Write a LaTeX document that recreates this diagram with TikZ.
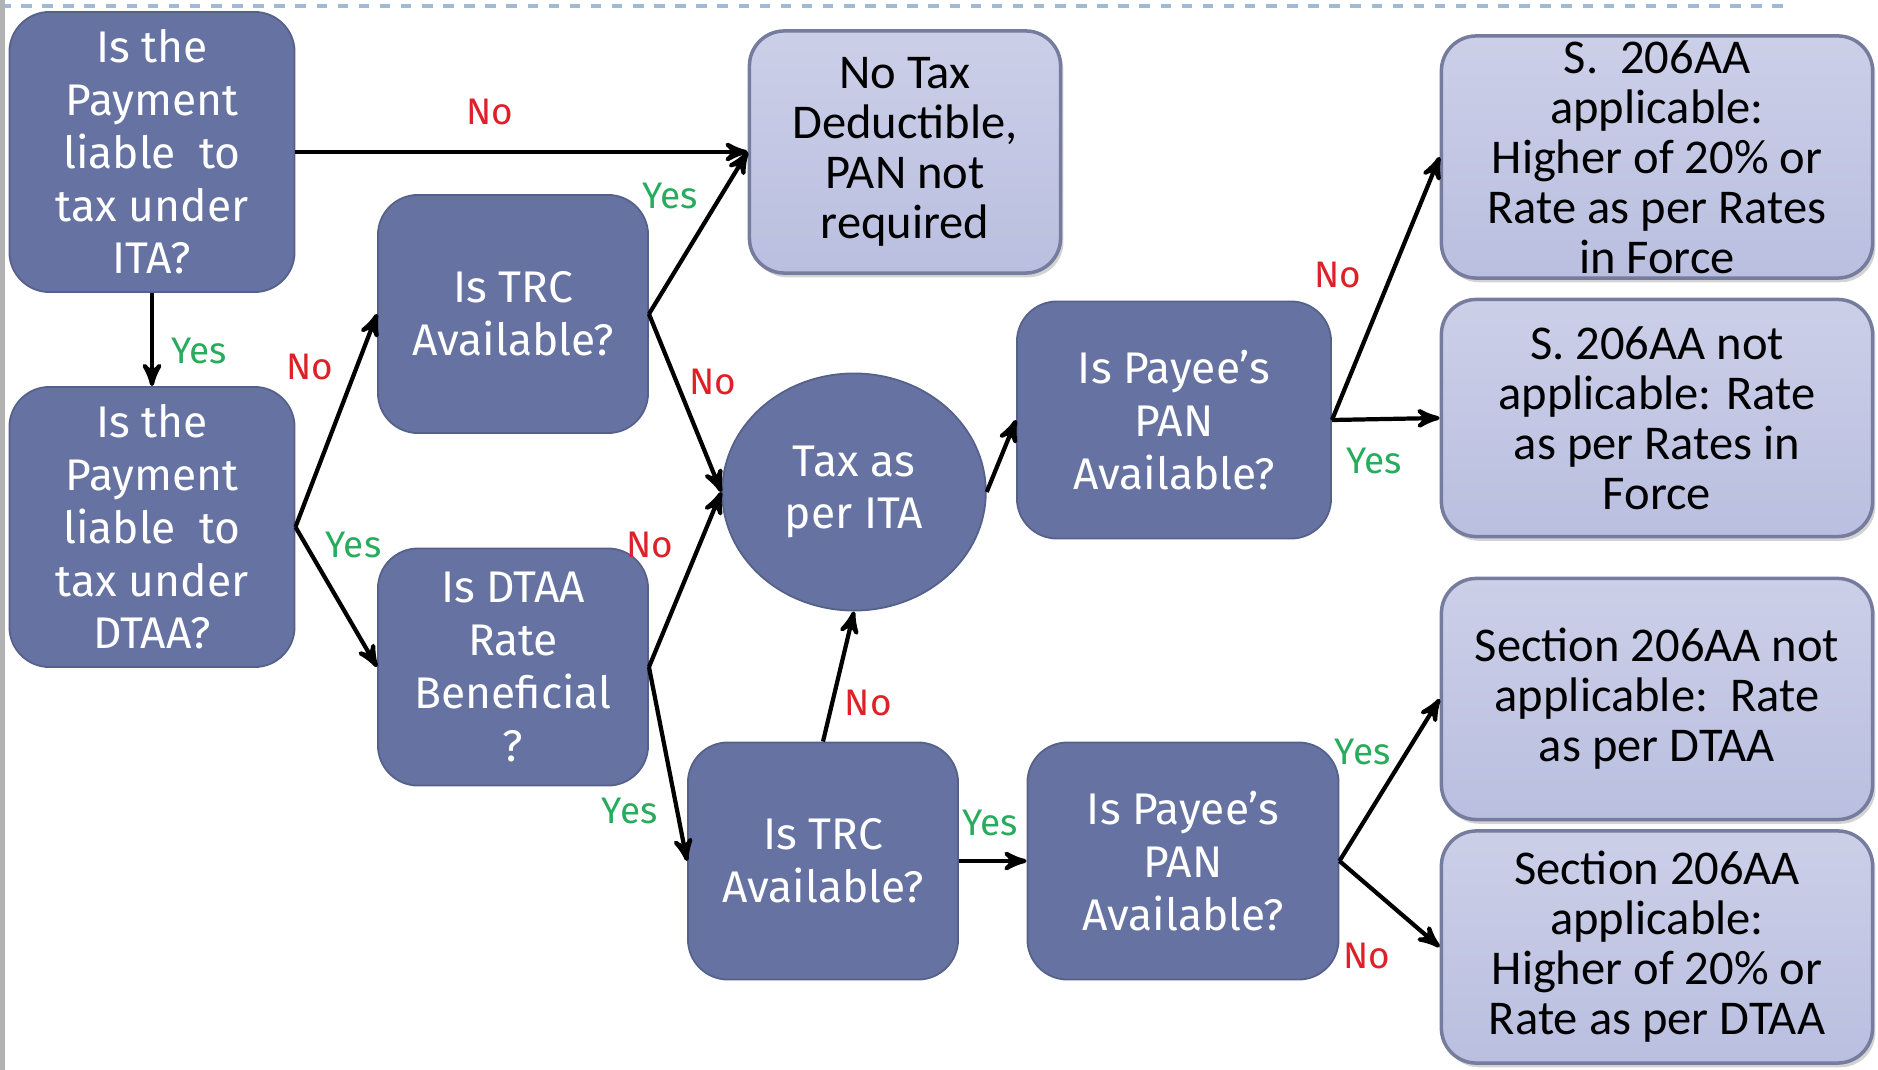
\documentclass[tikz,border=0pt]{standalone}
\usepackage{fontspec}
\setmainfont{Carlito}
\newfontfamily\firafont{Fira Sans}
\usetikzlibrary{shapes, shapes.geometric, arrows, shadows}
\definecolor{slateblue}{RGB}{101,114,162}
\definecolor{paleblue}{RGB}{186,191,224}
\definecolor{paleedge}{RGB}{118,124,158}
\definecolor{nored}{RGB}{222,32,40}
\definecolor{yesgreen}{RGB}{38,172,92}
\definecolor{dashblue}{RGB}{160,186,212}

\tikzset{
    question/.style = {rectangle, rounded corners = 0.4cm, fill = slateblue, draw = slateblue!85!black, line width = 0.5pt, text = white, align = center, inner sep = 0pt, font = \firafont\fontsize{12.6}{15}\selectfont},
    result/.style = {rectangle, rounded corners = 0.35cm, top color = paleblue!75!white, bottom color = paleblue, draw = paleedge, line width = 1pt, text = black, align = center, inner sep = 0pt, font = \fontsize{13.8}{14.2}\selectfont, drop shadow = {opacity = 0.35, shadow xshift = 0.8pt, shadow yshift = -1.2pt}},
    flow/.style = {->, >=stealth', line width = 1.2pt, black},
    yeslabel/.style = {text = yesgreen, inner sep = 1pt, font = \firafont\fontsize{10.5}{12}\selectfont},
    nolabel/.style = {text = nored, inner sep = 1pt, font = \firafont\fontsize{10.5}{12}\selectfont}
}

\begin{document}
\begin{tikzpicture}[x = 0.01cm, y = -0.01cm]
    \useasboundingbox (0,0) rectangle (1878,1070);
    \draw [dashblue, dashed, line width = 1pt] (0,6) -- (1790,6);
    \draw [gray!60, line width = 1.5pt] (2,0) -- (2,1070);

    \node (ita) [question, minimum width = 2.85cm, minimum height = 2.8cm] at (152,152) {Is the\\Payment\\liable\ \ to\\tax under\\ITA?};
    \node (dtaa) [question, minimum width = 2.85cm, minimum height = 2.8cm] at (152,527) {Is the\\Payment\\liable\ \ to\\tax under\\DTAA?};
    \node (trctop) [question, minimum width = 2.7cm, minimum height = 2.38cm] at (513,314) {Is TRC\\Available?};
    \node (rate) [question, minimum width = 2.7cm, minimum height = 2.37cm] at (513,667) {Is DTAA\\Rate\\Beneficial\\?};
    \node (taxita) [question, ellipse, minimum width = 2.635cm, minimum height = 2.37cm] at (854,492) {Tax as\\per ITA};
    \node (trcbot) [question, minimum width = 2.7cm, minimum height = 2.37cm] at (823,861) {Is TRC\\Available?};
    \node (pantop) [question, minimum width = 3.14cm, minimum height = 2.37cm] at (1174,420) {Is Payee’s\\PAN\\Available?};
    \node (panbot) [question, minimum width = 3.11cm, minimum height = 2.37cm] at (1183,861) {Is Payee’s\\PAN\\Available?};

    \node (notax) [result, minimum width = 3.11cm, minimum height = 2.42cm] at (905,152) {No Tax\\Deductible,\\PAN not\\required};
    \node (shigher) [result, minimum width = 4.31cm, minimum height = 2.42cm] at (1657,157) {S.\ \ 206AA\\applicable:\\Higher of 20\% or\\Rate as per Rates\\in Force};
    \node (sforce) [result, minimum width = 4.31cm, minimum height = 2.37cm] at (1657,418) {S. 206AA not\\applicable: Rate\\as per Rates in\\Force};
    \node (secrate) [result, minimum width = 4.31cm, minimum height = 2.41cm] at (1657,699) {Section 206AA not\\applicable:\ \ Rate\\as per DTAA};
    \node (sechigher) [result, minimum width = 4.31cm, minimum height = 2.32cm] at (1657,947) {Section 206AA\\applicable:\\Higher of 20\% or\\Rate as per DTAA};

    \draw [flow] (ita.east) -- node [nolabel, pos = 0.43, above = 6pt] {No} (notax.west);
    \draw [flow] (ita.south) -- node [yeslabel, pos = 0.62, right = 4pt] {Yes} (dtaa.north);
    \draw [flow] (dtaa.east) -- node [nolabel, pos = 0.75, left = 5pt] {No} (trctop.west);
    \draw [flow] (dtaa.east) -- node [yeslabel, pos = 0.13, right = 4pt] {Yes} (rate.west);
    \draw [flow] (trctop.east) -- node [yeslabel, pos = 0.73, left = 5pt] {Yes} (notax.west);
    \draw [flow] (trctop.east) -- node [nolabel, pos = 0.38, right = 2pt] {No} (taxita.west);
    \draw [flow] (rate.east) -- node [nolabel, pos = 0.7, left = 6pt] {No} (taxita.west);
    \draw [flow] (rate.east) -- node [yeslabel, pos = 0.74, left = 4pt] {Yes} (trcbot.west);
    \draw [flow] (trcbot.north) -- node [nolabel, pos = 0.3, right = 2pt] {No} (taxita.south);
    \draw [flow] (trcbot.east) -- node [yeslabel, pos = 0.46, above = 5.5pt] {Yes} (panbot.west);
    \draw [flow] (taxita.east) -- (pantop.west);
    \draw [flow] (pantop.east) -- node [nolabel, pos = 0.55, left = 7pt] {No} (shigher.west);
    \draw [flow] (pantop.east) -- node [yeslabel, pos = 0.39, below = 6.5pt] {Yes} (sforce.west);
    \draw [flow] (panbot.east) -- node [yeslabel, pos = 0.67, left = 3pt] {Yes} (secrate.west);
    \draw [flow] (panbot.east) -- node [nolabel, pos = 0.27, below = 15pt] {No} (sechigher.west);
\end{tikzpicture}
\end{document}
